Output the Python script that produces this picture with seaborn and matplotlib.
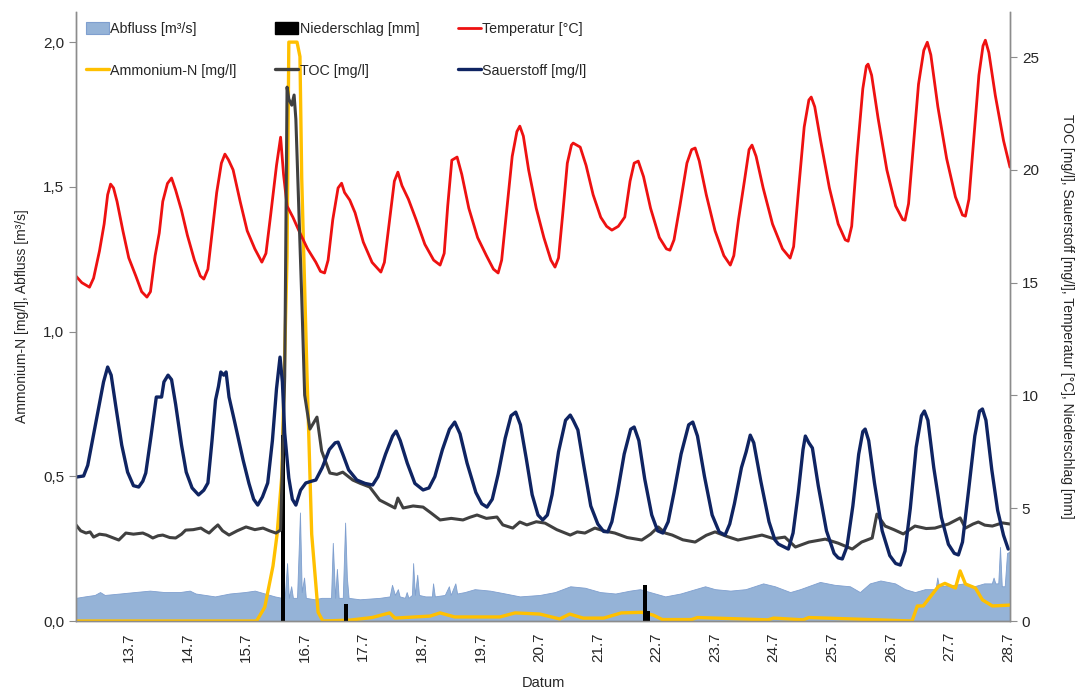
import numpy as np
import pandas as pd
import matplotlib
matplotlib.use("Agg")
import matplotlib.pyplot as plt
import seaborn as sns
from matplotlib.patches import Patch
from matplotlib.lines import Line2D
from matplotlib.ticker import FuncFormatter

# ---------------- data (day of July) ----------------
temp_day = [12.10, 12.20, 12.33, 12.40, 12.50, 12.58, 12.64, 12.69, 12.74, 12.80, 12.90, 13.00,
            13.12, 13.22, 13.31, 13.37, 13.45, 13.52, 13.58, 13.66, 13.73, 13.80, 13.90, 14.00,
            14.12, 14.22, 14.28, 14.35, 14.42, 14.50, 14.58, 14.64, 14.70, 14.78, 14.90, 15.02,
            15.15, 15.27, 15.34, 15.42, 15.52, 15.59, 15.64, 15.70, 15.80, 15.92, 16.05, 16.19,
            16.27, 16.34, 16.40, 16.48, 16.57, 16.63, 16.68, 16.77, 16.86, 17.00, 17.15, 17.30,
            17.36, 17.45, 17.53, 17.59, 17.66, 17.77, 17.90, 18.05, 18.20, 18.31, 18.38, 18.44,
            18.51, 18.60, 18.68, 18.80, 18.95, 19.10, 19.22, 19.30, 19.36, 19.45, 19.54, 19.62,
            19.67, 19.73, 19.82, 19.95, 20.08, 20.20, 20.27, 20.33, 20.40, 20.48, 20.55, 20.58,
            20.70, 20.80, 20.92, 21.05, 21.15, 21.24, 21.35, 21.46, 21.55, 21.62, 21.69, 21.78,
            21.90, 22.05, 22.17, 22.23, 22.30, 22.40, 22.52, 22.60, 22.66, 22.73, 22.85, 23.00,
            23.15, 23.26, 23.32, 23.40, 23.50, 23.58, 23.63, 23.70, 23.82, 23.98, 24.15, 24.28,
            24.34, 24.42, 24.52, 24.60, 24.64, 24.70, 24.80, 24.95, 25.10, 25.22, 25.27, 25.33,
            25.42, 25.52, 25.58, 25.61, 25.67, 25.78, 25.93, 26.08, 26.20, 26.24, 26.30, 26.38,
            26.47, 26.56, 26.62, 26.68, 26.80, 26.95, 27.10, 27.22, 27.27, 27.33, 27.41, 27.50,
            27.57, 27.61, 27.67, 27.78, 27.92, 28.03]
temp_val = [15.29, 15.00, 14.80, 15.20, 16.40, 17.60, 18.90, 19.37, 19.20, 18.60, 17.30, 16.10,
            15.30, 14.60, 14.36, 14.60, 16.20, 17.20, 18.60, 19.40, 19.64, 19.10, 18.20, 17.10,
            16.00, 15.30, 15.16, 15.60, 17.20, 19.00, 20.30, 20.70, 20.45, 20.00, 18.60, 17.30,
            16.50, 15.91, 16.30, 18.00, 20.20, 21.45, 19.80, 18.40, 17.90, 17.20, 16.50, 15.91,
            15.50, 15.43, 16.00, 17.80, 19.20, 19.41, 19.00, 18.66, 18.10, 16.80, 15.90, 15.47,
            15.90, 17.80, 19.50, 19.90, 19.30, 18.70, 17.80, 16.70, 16.00, 15.78, 16.30, 18.40,
            20.43, 20.57, 19.80, 18.30, 17.00, 16.20, 15.60, 15.43, 16.00, 18.30, 20.60, 21.70,
            21.94, 21.50, 20.00, 18.30, 17.00, 16.00, 15.69, 16.10, 18.00, 20.30, 21.10, 21.19,
            21.01, 20.20, 18.90, 17.90, 17.50, 17.33, 17.50, 17.91, 19.50, 20.30, 20.39, 19.70,
            18.30, 17.00, 16.50, 16.44, 16.90, 18.40, 20.30, 20.90, 20.97, 20.40, 18.90, 17.30,
            16.20, 15.78, 16.20, 17.80, 19.50, 20.90, 21.10, 20.60, 19.20, 17.60, 16.50, 16.09,
            16.60, 19.00, 21.90, 23.10, 23.23, 22.80, 21.30, 19.20, 17.60, 16.90, 16.84, 17.50,
            20.60, 23.60, 24.60, 24.69, 24.20, 22.30, 20.00, 18.40, 17.80, 17.77, 18.50, 21.00,
            23.80, 25.30, 25.66, 25.10, 22.80, 20.50, 18.80, 18.00, 17.95, 18.70, 21.30, 24.20,
            25.50, 25.75, 25.20, 23.30, 21.30, 20.12]

o2_day = [12.10, 12.23, 12.30, 12.38, 12.48, 12.57, 12.64, 12.70, 12.78, 12.88, 12.98, 13.08,
          13.17, 13.24, 13.29, 13.38, 13.47, 13.56, 13.60, 13.67, 13.73, 13.80, 13.90, 13.98,
          14.08, 14.19, 14.28, 14.35, 14.42, 14.48, 14.53, 14.57, 14.62, 14.66, 14.71, 14.80,
          14.95, 15.05, 15.13, 15.20, 15.28, 15.37, 15.45, 15.52, 15.58, 15.62, 15.66, 15.73,
          15.79, 15.85, 15.93, 16.02, 16.12, 16.19, 16.30, 16.42, 16.52, 16.57, 16.65, 16.75,
          16.89, 17.03, 17.16, 17.25, 17.38, 17.50, 17.56, 17.63, 17.75, 17.88, 18.02, 18.12,
          18.22, 18.35, 18.47, 18.56, 18.65, 18.77, 18.92, 19.02, 19.11, 19.20, 19.30, 19.42,
          19.52, 19.60, 19.68, 19.78, 19.88, 19.98, 20.06, 20.14, 20.22, 20.33, 20.45, 20.53,
          20.58, 20.66, 20.76, 20.88, 21.00, 21.10, 21.17, 21.24, 21.33, 21.45, 21.56, 21.62,
          21.70, 21.80, 21.92, 22.02, 22.11, 22.20, 22.30, 22.42, 22.55, 22.62, 22.70, 22.82,
          22.95, 23.07, 23.17, 23.25, 23.33, 23.45, 23.53, 23.60, 23.66, 23.78, 23.92, 24.02,
          24.08, 24.25, 24.33, 24.42, 24.50, 24.54, 24.60, 24.66, 24.76, 24.90, 25.03, 25.10,
          25.17, 25.25, 25.35, 25.45, 25.52, 25.56, 25.62, 25.72, 25.85, 25.98, 26.08, 26.16,
          26.24, 26.33, 26.43, 26.52, 26.57, 26.63, 26.73, 26.86, 26.98, 27.08, 27.15, 27.22,
          27.32, 27.43, 27.51, 27.56, 27.62, 27.72, 27.82, 27.92, 28.00]
o2_val = [6.38, 6.43, 6.90, 8.00, 9.40, 10.60, 11.26, 10.90, 9.50, 7.80, 6.60, 6.00,
          5.94, 6.20, 6.56, 8.20, 9.93, 9.93, 10.60, 10.90, 10.70, 9.60, 7.80, 6.60,
          5.90, 5.59, 5.80, 6.12, 8.00, 9.80, 10.40, 11.04, 10.90, 11.04, 9.93, 8.90,
          7.14, 6.10, 5.40, 5.14, 5.50, 6.12, 8.00, 10.30, 11.70, 10.60, 8.33, 6.34,
          5.40, 5.14, 5.80, 6.12, 6.20, 6.25, 6.80, 7.60, 7.90, 7.93, 7.40, 6.70,
          6.25, 6.10, 6.03, 6.40, 7.40, 8.20, 8.42, 8.00, 7.00, 6.10, 5.81, 5.90,
          6.40, 7.60, 8.50, 8.82, 8.30, 7.00, 5.70, 5.20, 5.05, 5.40, 6.50, 8.10,
          9.10, 9.26, 8.70, 7.20, 5.60, 4.70, 4.48, 4.70, 5.60, 7.50, 8.90, 9.13,
          8.90, 8.47, 6.90, 5.10, 4.30, 3.97, 3.95, 4.40, 5.60, 7.40, 8.50, 8.60,
          8.00, 6.30, 4.70, 4.00, 3.90, 4.40, 5.70, 7.40, 8.70, 8.82, 8.20, 6.40,
          4.70, 3.95, 3.81, 4.30, 5.20, 6.80, 7.50, 8.24, 7.90, 6.20, 4.40, 3.60,
          3.41, 3.19, 3.90, 5.70, 7.60, 8.20, 7.90, 7.67, 6.00, 4.00, 3.00, 2.80,
          2.75, 3.30, 5.10, 7.40, 8.40, 8.51, 8.00, 6.10, 4.00, 2.90, 2.55, 2.48,
          3.10, 5.00, 7.70, 9.10, 9.31, 8.90, 6.80, 4.60, 3.40, 3.00, 2.93, 3.50,
          5.70, 8.20, 9.30, 9.40, 8.90, 6.70, 4.90, 3.80, 3.19]

toc_day = [12.10, 12.18, 12.27, 12.34, 12.40, 12.50, 12.61, 12.72, 12.83, 12.95, 13.08, 13.24,
           13.33, 13.41, 13.50, 13.58, 13.70, 13.80, 13.90, 13.97, 14.10, 14.23, 14.30, 14.37,
           14.45, 14.52, 14.60, 14.71, 14.85, 15.00, 15.15, 15.29, 15.40, 15.51, 15.59, 15.66,
           15.70, 15.73, 15.78, 15.82, 15.85, 15.95, 16.00, 16.09, 16.21, 16.29, 16.43, 16.55,
           16.65, 16.82, 16.95, 17.11, 17.28, 17.40, 17.54, 17.59, 17.68, 17.85, 18.02, 18.15,
           18.31, 18.50, 18.70, 18.82, 18.94, 19.10, 19.28, 19.38, 19.55, 19.67, 19.79, 19.95,
           20.10, 20.30, 20.53, 20.65, 20.78, 20.95, 21.10, 21.29, 21.50, 21.75, 21.90, 22.03,
           22.15, 22.27, 22.45, 22.66, 22.85, 23.00, 23.20, 23.39, 23.60, 23.80, 24.00, 24.19,
           24.37, 24.60, 24.88, 25.10, 25.34, 25.50, 25.68, 25.76, 25.90, 26.05, 26.21, 26.41,
           26.60, 26.75, 26.98, 27.18, 27.27, 27.40, 27.49, 27.60, 27.73, 27.90, 28.03]
toc_val = [4.26, 4.00, 3.90, 3.95, 3.72, 3.85, 3.81, 3.70, 3.59, 3.90, 3.85, 3.90,
           3.80, 3.68, 3.78, 3.81, 3.70, 3.68, 3.85, 4.03, 4.05, 4.12, 4.00, 3.90,
           4.10, 4.26, 4.00, 3.81, 4.00, 4.17, 4.05, 4.12, 4.00, 3.90, 4.03, 10.86,
           23.67, 23.14, 22.87, 23.32, 22.25, 14.36, 10.02, 8.51, 9.04, 7.54, 6.56, 6.50,
           6.60, 6.25, 6.10, 5.94, 5.36, 5.20, 5.01, 5.45, 5.01, 5.10, 5.05, 4.80,
           4.48, 4.55, 4.48, 4.60, 4.70, 4.55, 4.61, 4.26, 4.12, 4.39, 4.26, 4.40,
           4.34, 4.05, 3.81, 3.95, 3.90, 4.12, 4.00, 3.90, 3.70, 3.59, 3.85, 4.17,
           3.90, 3.81, 3.60, 3.50, 3.80, 3.95, 3.75, 3.59, 3.70, 3.81, 3.65, 3.72,
           3.28, 3.50, 3.63, 3.45, 3.19, 3.50, 3.68, 4.74, 4.21, 4.05, 3.86, 4.21,
           4.10, 4.12, 4.30, 4.57, 4.12, 4.30, 4.39, 4.25, 4.21, 4.35, 4.30]

nh4_day = [12.10, 15.18, 15.32, 15.46, 15.53, 15.61, 15.70, 15.73, 15.87, 15.92, 15.95, 16.04,
           16.12, 16.23, 16.31, 16.77, 17.15, 17.45, 17.54, 18.14, 18.31, 18.56, 19.33, 19.59,
           20.01, 20.35, 20.52, 20.75, 21.10, 21.40, 21.75, 21.95, 22.10, 22.60, 22.70, 23.90,
           24.00, 24.50, 24.60, 26.36, 26.45, 26.55, 26.81, 26.92, 27.10, 27.18, 27.27, 27.44,
           27.56, 27.73, 28.03]
nh4_val = [0.0, 0.0, 0.048, 0.19, 0.30, 0.50, 1.26, 2.0, 2.0, 1.95, 1.53, 0.85,
           0.30, 0.03, 0.0, 0.003, 0.012, 0.028, 0.01, 0.017, 0.028, 0.014, 0.014, 0.028,
           0.024, 0.007, 0.024, 0.01, 0.01, 0.028, 0.03, 0.02, 0.005, 0.005, 0.012, 0.004,
           0.01, 0.004, 0.012, 0.0, 0.052, 0.052, 0.12, 0.13, 0.114, 0.173, 0.128, 0.114,
           0.073, 0.052, 0.055]

abfluss_day = [12.10, 12.25, 12.42, 12.51, 12.59, 12.85, 13.10, 13.36, 13.61, 13.87, 14.04, 14.14,
               14.47, 14.72, 14.98, 15.15, 15.32, 15.49, 15.61, 15.66, 15.70, 15.73, 15.77, 15.80,
               15.84, 15.87, 15.92, 15.95, 15.99, 16.02, 16.17, 16.29, 16.45, 16.48, 16.52, 16.55,
               16.58, 16.65, 16.69, 16.72, 16.75, 16.94, 17.28, 17.45, 17.49, 17.54, 17.59, 17.62,
               17.71, 17.74, 17.77, 17.83, 17.85, 17.88, 17.92, 17.95, 18.06, 18.17, 18.19, 18.22,
               18.39, 18.46, 18.49, 18.57, 18.60, 18.73, 18.90, 19.16, 19.42, 19.67, 20.01, 20.27,
               20.53, 20.78, 21.04, 21.30, 21.55, 21.72, 21.89, 22.15, 22.41, 22.66, 22.83, 23.00,
               23.26, 23.52, 23.82, 24.02, 24.28, 24.45, 24.79, 25.04, 25.30, 25.47, 25.64, 25.82,
               26.07, 26.24, 26.41, 26.58, 26.76, 26.79, 26.82, 27.08, 27.25, 27.42, 27.59, 27.72,
               27.75, 27.78, 27.83, 27.86, 27.89, 27.94, 27.98, 28.03]
abfluss_val = [0.08, 0.085, 0.09, 0.10, 0.09, 0.095, 0.10, 0.105, 0.10, 0.10, 0.105, 0.095,
               0.085, 0.095, 0.10, 0.105, 0.095, 0.085, 0.08, 0.08, 0.20, 0.08, 0.12, 0.08,
               0.08, 0.08, 0.375, 0.10, 0.15, 0.08, 0.075, 0.08, 0.08, 0.27, 0.08, 0.18,
               0.08, 0.08, 0.34, 0.15, 0.08, 0.075, 0.08, 0.085, 0.125, 0.09, 0.11, 0.085,
               0.08, 0.10, 0.08, 0.09, 0.20, 0.09, 0.16, 0.09, 0.085, 0.085, 0.13, 0.085,
               0.09, 0.12, 0.09, 0.13, 0.095, 0.10, 0.11, 0.105, 0.095, 0.085, 0.09, 0.10,
               0.12, 0.115, 0.10, 0.095, 0.105, 0.11, 0.10, 0.085, 0.095, 0.11, 0.12, 0.11,
               0.105, 0.11, 0.13, 0.12, 0.10, 0.11, 0.135, 0.125, 0.12, 0.10, 0.13, 0.14,
               0.13, 0.11, 0.10, 0.11, 0.11, 0.15, 0.12, 0.125, 0.13, 0.12, 0.13, 0.13,
               0.15, 0.13, 0.13, 0.256, 0.12, 0.12, 0.235, 0.24]

prec_day = [15.63, 16.70, 21.80, 21.86]
prec_val = [8.25, 0.75, 1.60, 0.45]

xtick_days = list(range(13, 29))
xtick_labels = [f"{d}.7" for d in xtick_days]
left_ticks = [0.0, 0.5, 1.0, 1.5, 2.0]
right_ticks = [0, 5, 10, 15, 20, 25]

# ---------------- style ----------------
sns.set_style("white")
plt.rcParams['font.family'] = ['Liberation Sans', 'DejaVu Sans']

C_ABF = '#95B3D7'
C_ABF_E = '#7F9FCF'
C_TEMP = '#EE1111'
C_NH4 = '#FFC000'
C_TOC = '#404040'
C_O2 = '#0F2462'
C_AX = '#8C8C8C'

fig = plt.figure(figsize=(10.81, 6.91), dpi=100)
ax = fig.add_axes([0.0703, 0.1013, 0.8640, 0.8813])
ax2 = ax.twinx()

# left axis: Abfluss + Ammonium
ax.fill_between(abfluss_day, abfluss_val, 0, color=C_ABF, edgecolor=C_ABF_E, lw=0.6, zorder=1)
sns.lineplot(x=nh4_day, y=nh4_val, ax=ax, color=C_NH4, lw=2.4, estimator=None, sort=False, zorder=3)

# right axis
ax2.bar(prec_day, prec_val, width=0.07, color='black', edgecolor='none', linewidth=0, zorder=2)
sns.lineplot(x=temp_day, y=temp_val, ax=ax2, color=C_TEMP, lw=2.0, estimator=None, sort=False)
sns.lineplot(x=toc_day, y=toc_val, ax=ax2, color=C_TOC, lw=2.2, estimator=None, sort=False)
sns.lineplot(x=o2_day, y=o2_val, ax=ax2, color=C_O2, lw=2.4, estimator=None, sort=False)

ax.set_xlim(12.10, 28.03)
ax.set_ylim(0, 2.104)
ax2.set_ylim(0, 27.0)

ax.set_xticks(xtick_days)
ax.set_xticklabels(xtick_labels, rotation=90, fontsize=11)
ax.set_yticks(left_ticks)
ax.yaxis.set_major_formatter(FuncFormatter(lambda v, p: f"{v:.1f}".replace('.', ',')))
ax2.set_yticks(right_ticks)
ax.tick_params(axis='y', labelsize=11, length=5, color=C_AX, direction='out', left=True)
ax.tick_params(axis='x', length=0, pad=8)
ax2.tick_params(axis='y', labelsize=11, length=5, color=C_AX, direction='out', right=True)

for a in (ax, ax2):
    a.spines['top'].set_visible(False)
    for s in ('left', 'right', 'bottom'):
        a.spines[s].set_color(C_AX)
        a.spines[s].set_linewidth(1.0)

ax.set_xlabel("Datum", fontsize=10.5, labelpad=10)
ax.set_ylabel("Ammonium-N [mg/l], Abfluss [m³/s]", fontsize=10, labelpad=10)
ax2.set_ylabel("TOC [mg/l], Sauerstoff [mg/l], Temperatur [°C], Niederschlag [mm]",
               fontsize=10, rotation=270, labelpad=25)

handles = [
    Patch(facecolor=C_ABF, edgecolor=C_ABF_E, lw=0.8),
    Line2D([0], [0], color=C_NH4, lw=2.4),
    Patch(facecolor='black', edgecolor='black'),
    Line2D([0], [0], color=C_TOC, lw=2.4),
    Line2D([0], [0], color=C_TEMP, lw=2.0),
    Line2D([0], [0], color=C_O2, lw=2.4),
]
labels = ["Abfluss [m³/s]", "Ammonium-N [mg/l]", "Niederschlag [mm]", "TOC [mg/l]",
          "Temperatur [°C]", "Sauerstoff [mg/l]"]
leg = ax2.legend(handles, labels, ncol=3, loc='upper left', bbox_to_anchor=(0.0, 1.0),
                 frameon=False, fontsize=10.3, handlelength=1.6, handleheight=0.9,
                 handletextpad=0.1, columnspacing=2.7, labelspacing=1.95, borderaxespad=0.3)

fig.savefig("out.png", dpi=100)
